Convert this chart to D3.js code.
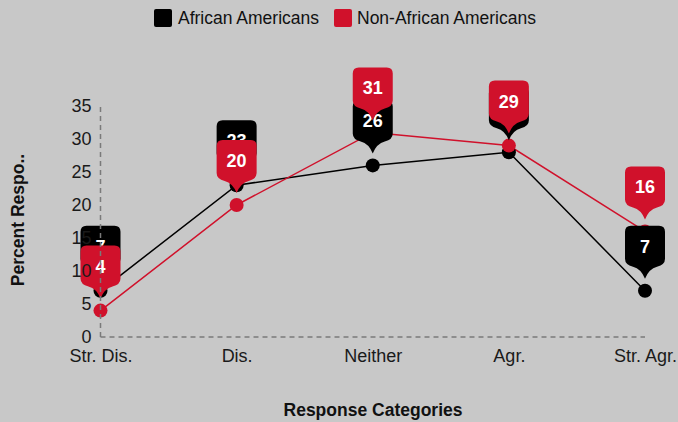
<!DOCTYPE html>
<html>
<head>
<meta charset="utf-8">
<script src="https://cdn.jsdelivr.net/npm/d3@7"></script>
<style>
  html, body { margin: 0; padding: 0; background: #c8c8c8; }
  svg { display: block; font-family: "Liberation Sans", Arial, sans-serif; }
</style>
</head>
<body>
<svg id="chart" width="678" height="422"></svg>
<script>
// Survey responses by group (percent)
const categories = ["Str. Dis.", "Dis.", "Neither", "Agr.", "Str. Agr."];
const africanAmericans = [7, 23, 26, 28, 7];
const nonAfricanAmericans = [4, 20, 31, 29, 16];
const yTicks = [0, 5, 10, 15, 20, 25, 30, 35];
const seriesNames = ["African Americans", "Non-African Americans"];
const seriesColors = ["#000000", "#d0112b"];

const svg = d3.select("#chart");
const W = 678, H = 422;

svg.append("rect").attr("width", W).attr("height", H).attr("fill", "#c8c8c8");

const x = d3.scalePoint().domain(categories).range([100.5, 645]);
const y = d3.scaleLinear().domain([0, 35]).range([337, 106]);

const series = [
  { name: seriesNames[0], color: seriesColors[0], values: africanAmericans },
  { name: seriesNames[1], color: seriesColors[1], values: nonAfricanAmericans }
];

// Legend
const legend = svg.append("g");
const legendItems = [
  { x: 154, textX: 178 },
  { x: 334, textX: 357 }
];
series.forEach((s, i) => {
  legend.append("rect")
    .attr("x", legendItems[i].x).attr("y", 9)
    .attr("width", 18).attr("height", 18).attr("rx", 2)
    .attr("fill", s.color);
  legend.append("text")
    .attr("x", legendItems[i].textX).attr("y", 24)
    .attr("font-size", 17.5).attr("fill", "#111")
    .text(s.name);
});

// Lines
const line = d3.line()
  .x((d, i) => x(categories[i]))
  .y(d => y(d));

series.forEach(s => {
  svg.append("path")
    .datum(s.values)
    .attr("d", line)
    .attr("fill", "none")
    .attr("stroke", s.color)
    .attr("stroke-width", 1.5);
});

// Points
series.forEach(s => {
  svg.append("g").selectAll("circle")
    .data(s.values)
    .join("circle")
    .attr("cx", (d, i) => x(categories[i]))
    .attr("cy", d => y(d))
    .attr("r", 7)
    .attr("fill", s.color);
});

// Pin-shaped value callouts
function pinPath(tx, ty) {
  const hw = 20, top = ty - 53, r = 6, body = ty - 20;
  return [
    `M${tx - hw + r},${top}`,
    `H${tx + hw - r}`,
    `Q${tx + hw},${top} ${tx + hw},${top + r}`,
    `V${body}`,
    `Q${tx + hw},${ty - 14} ${tx + 12},${ty - 12}`,
    `Q${tx + 4},${ty - 10} ${tx},${ty}`,
    `Q${tx - 4},${ty - 10} ${tx - 12},${ty - 12}`,
    `Q${tx - hw},${ty - 14} ${tx - hw},${body}`,
    `V${top + r}`,
    `Q${tx - hw},${top} ${tx - hw + r},${top}`,
    "Z"
  ].join(" ");
}

series.forEach(s => {
  const g = svg.append("g");
  s.values.forEach((v, i) => {
    const tx = x(categories[i]);
    const ty = y(v) - 12;
    g.append("path").attr("d", pinPath(tx, ty)).attr("fill", s.color);
    g.append("text")
      .attr("x", tx).attr("y", ty - 26)
      .attr("text-anchor", "middle")
      .attr("font-size", 18).attr("font-weight", "bold")
      .attr("fill", "#ffffff")
      .text(v);
  });
});

// Axes (dashed baseline and vertical axis)
const axisG = svg.append("g");
axisG.append("line")
  .attr("x1", x(categories[0])).attr("x2", x(categories[categories.length - 1]))
  .attr("y1", y(0)).attr("y2", y(0))
  .attr("stroke", "#7a7a7a").attr("stroke-width", 1.5)
  .attr("stroke-dasharray", "5,4");
axisG.append("line")
  .attr("x1", x(categories[0])).attr("x2", x(categories[0]))
  .attr("y1", y(0)).attr("y2", y(35))
  .attr("stroke", "#7a7a7a").attr("stroke-width", 1.5)
  .attr("stroke-dasharray", "5,4");

const yAxis = d3.axisLeft(y).tickValues(yTicks).tickSize(0).tickPadding(9);
const yg = svg.append("g").attr("transform", `translate(${x(categories[0])},0)`).call(yAxis);
yg.select(".domain").remove();
yg.selectAll("text")
  .attr("font-size", 18).attr("fill", "#1a1a1a")
  .attr("font-family", "Liberation Sans, Arial, sans-serif");

const xAxis = d3.axisBottom(x).tickSize(0).tickPadding(12);
const xg = svg.append("g").attr("transform", `translate(0,${y(0)})`).call(xAxis);
xg.select(".domain").remove();
xg.selectAll("text")
  .attr("font-size", 18).attr("fill", "#1a1a1a")
  .attr("font-family", "Liberation Sans, Arial, sans-serif");

// Axis titles
svg.append("text")
  .attr("transform", "translate(24,220) rotate(-90)")
  .attr("text-anchor", "middle")
  .attr("font-size", 17.5).attr("font-weight", "bold").attr("fill", "#111")
  .text("Percent Respo..");

svg.append("text")
  .attr("x", 373).attr("y", 416)
  .attr("text-anchor", "middle")
  .attr("font-size", 17.5).attr("font-weight", "bold").attr("fill", "#111")
  .text("Response Categories");
</script>
</body>
</html>
